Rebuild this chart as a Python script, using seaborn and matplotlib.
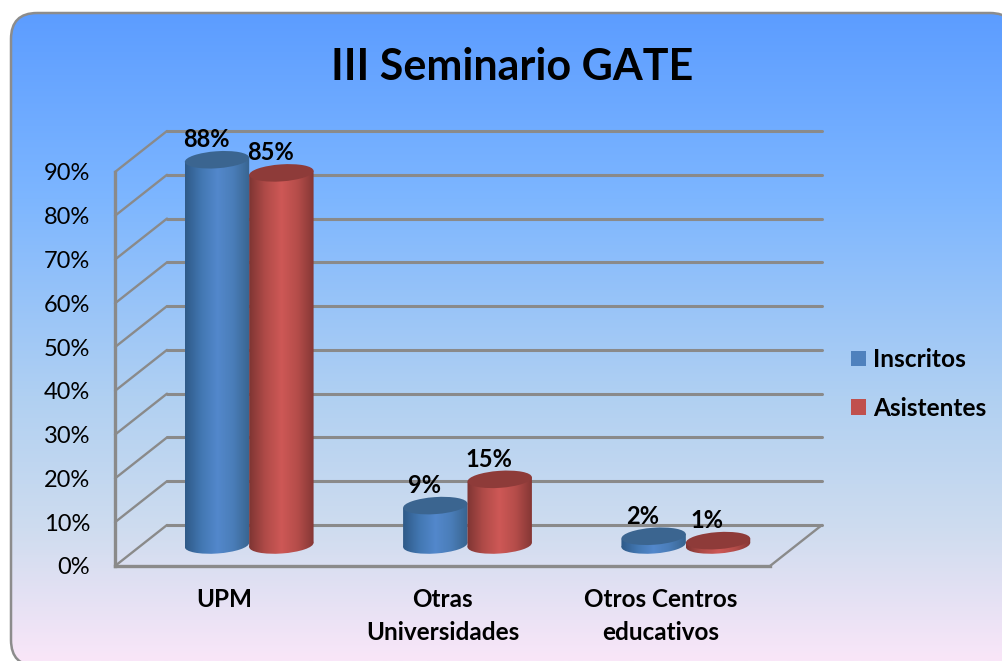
import numpy as np
import pandas as pd
import seaborn as sns
import matplotlib
matplotlib.use("Agg")
import matplotlib.pyplot as plt
from matplotlib.colors import LinearSegmentedColormap
from matplotlib.patches import Ellipse, FancyBboxPatch, Polygon
from matplotlib.transforms import Affine2D, IdentityTransform

categories = ["UPM", "Otras\nUniversidades", "Otros Centros\neducativos"]
inscritos = [88, 9, 2]
asistentes = [85, 15, 1]
series_names = ["Inscritos", "Asistentes"]
y_ticks = list(range(0, 100, 10))
title = "III Seminario GATE"

W, H = 1003, 661
GRID = "#8A8A8A"
BLUE, RED = "#4F81BD", "#C0504D"
DEPTH_X, DEPTH_Y = 52, 41
TILT = 4
FONT = "Lato"

sns.set_theme(style="white")
plt.rcParams["font.family"] = [FONT, "DejaVu Sans"]
plt.rcParams["text.color"] = "black"
plt.rcParams["xtick.color"] = "black"
plt.rcParams["ytick.color"] = "black"


def px_axes(fig, x0, y0, x1, y1, **kw):
    # rectangle given in pixels from the top left corner
    return fig.add_axes([x0 / W, 1 - y1 / H, (x1 - x0) / W, (y1 - y0) / H], **kw)


fig = plt.figure(figsize=(W / 100, H / 100), dpi=100, facecolor="white")

# rounded panel with vertical gradient
bg = px_axes(fig, 0, 0, W, H)
bg.set_xlim(0, W)
bg.set_ylim(H, 0)
bg.axis("off")
bg_cmap = LinearSegmentedColormap.from_list(
    "bg",
    [(0, "#5A9BFF"), (0.3, "#7DB6FF"), (0.6, "#B0D0F2"), (0.8, "#CEDCEF"), (1, "#F9E6F8")],
)
grad = bg.imshow(np.linspace(0, 1, 256)[:, None], cmap=bg_cmap, extent=(0, W, H, 0), aspect="auto")
# panel runs off the canvas, flatten its curves so agg clips the outline cleanly
rounded = FancyBboxPatch((11, 13), 1005, 653, boxstyle="round,pad=0,rounding_size=26")
outline = rounded.get_path().to_polygons()[0]
panel = Polygon(outline, closed=True, fc="none", ec="#8C8C8C", lw=1.8, zorder=3)
bg.add_patch(panel)
grad.set_clip_path(panel)

bg.text(512, 67, title, ha="center", va="center", fontsize=31, fontweight="bold", color="black")

# front plane of the 3d box: labels and outer frame
ax = px_axes(fig, 115, 172, 770, 566)
ax.patch.set_alpha(0)
ax.set_xlim(-0.5, 2.5)
ax.set_ylim(0, 90)
ax.set_yticks(y_ticks)
ax.set_yticklabels([f"{v}%" for v in y_ticks], fontsize=17)
ax.set_xticks(range(len(categories)))
ax.set_xticklabels(categories, fontsize=17.5, fontweight="bold", linespacing=1.5)
ax.tick_params(axis="y", length=0, pad=18)
ax.tick_params(axis="x", length=0, pad=16)
for side in ["top", "right"]:
    ax.spines[side].set_visible(False)
for side in ["left", "bottom"]:
    ax.spines[side].set_color(GRID)
    ax.spines[side].set_linewidth(2.4)

back = ax.transData + Affine2D().translate(DEPTH_X, DEPTH_Y)
for v in y_ticks:
    ax.plot([-0.5, 2.5], [v, v], color=GRID, lw=2.2, transform=back, clip_on=False, zorder=1)
    x0, y0 = ax.transData.transform((-0.5, v))
    ax.plot([x0, x0 + DEPTH_X], [y0, y0 + DEPTH_Y], color=GRID, lw=1.7,
            transform=IdentityTransform(), clip_on=False, zorder=1)
x1, y1 = ax.transData.transform((2.5, 0))
ax.plot([x1, x1 + DEPTH_X], [y1, y1 + DEPTH_Y], color=GRID, lw=1.7,
        transform=IdentityTransform(), clip_on=False, zorder=1)

# bars stand in the middle of the box depth
bar_ax = px_axes(fig, 115 + 25, 172 - 21, 770 + 25, 566 - 21)
bar_ax.patch.set_alpha(0)
bar_ax.axis("off")

df = pd.DataFrame({
    "cat": categories * 2,
    "serie": [series_names[0]] * 3 + [series_names[1]] * 3,
    "valor": inscritos + asistentes,
})
sns.barplot(data=df, x="cat", y="valor", hue="serie", palette=[BLUE, RED], order=categories,
            width=0.59, gap=0, saturation=1, ax=bar_ax, legend=True, errorbar=None)
bar_ax.set_xlim(-0.5, 2.5)
bar_ax.set_ylim(0, 90)
bar_ax.set_xlabel("")
bar_ax.set_ylabel("")
handles, labels = bar_ax.get_legend_handles_labels()
bar_ax.get_legend().remove()

cmaps = {
    BLUE: LinearSegmentedColormap.from_list("b", ["#2F5A88", "#4277B2", "#5388CC", "#4A7DB8", "#38648F"]),
    RED: LinearSegmentedColormap.from_list("r", ["#7E3533", "#B04B48", "#CE5856", "#B54D4A", "#853735"]),
}
tops = {BLUE: "#3B6590", RED: "#8E3B39"}
ramp = np.linspace(0, 1, 128)[None, :]

bars = [p for p in bar_ax.patches if p.get_height() > 0]
for i, bar in enumerate(bars):
    col = BLUE if i < 3 else RED
    x, w, h = bar.get_x(), bar.get_width(), bar.get_height()
    bar.set_visible(False)
    z = 5 + i % 3 * 3 + (0 if i < 3 else 1)
    (px0, py0), (px1, py1) = bar_ax.transData.transform([(x, 0), (x + w, h)])
    cx = (px0 + px1) / 2
    pw = px1 - px0
    tilt = dict(width=pw, height=17, angle=TILT, transform=IdentityTransform())
    # body follows the tilt of the ellipses, foot shares its horizontal shading
    dy = pw / 2 * np.sin(np.radians(TILT))
    body = bar_ax.imshow(ramp, cmap=cmaps[col], aspect="auto", zorder=z,
                         extent=(x, x + w, -2.5, h + 1))
    body.set_clip_box(fig.bbox)
    body.set_clip_path(Polygon([(px0, py0 - dy), (px1, py0 + dy), (px1, py1 + dy), (px0, py1 - dy)],
                               transform=IdentityTransform()))
    foot = bar_ax.imshow(ramp, cmap=cmaps[col], aspect="auto", zorder=z,
                         extent=(x, x + w, -2.5, h + 1))
    foot.set_clip_box(fig.bbox)
    foot.set_clip_path(Ellipse((cx, py0), **tilt))
    bar_ax.add_patch(Ellipse((cx, py1), fc=tops[col], ec="none", zorder=z + 0.5, clip_on=False, **tilt))
    bar_ax.text(x + w / 2, h, f"{round(h)}%", ha="center", va="center", fontsize=17, fontweight="bold",
                color="black", zorder=20, clip_on=False,
                transform=bar_ax.transData + Affine2D().translate(-11, 20))
bar_ax.set_xlim(-0.5, 2.5)
bar_ax.set_ylim(0, 90)

for handle in handles:
    handle.set_edgecolor("none")
leg = fig.legend(handles, labels, loc="center left", bbox_to_anchor=(851 / W, 1 - 384 / H), frameon=False,
                 prop={"family": FONT, "weight": "bold", "size": 17.6}, handlelength=0.62, handleheight=0.62,
                 handletextpad=0.3, labelspacing=1.05, borderpad=0, borderaxespad=0)

fig.savefig("out.png", dpi=100)
